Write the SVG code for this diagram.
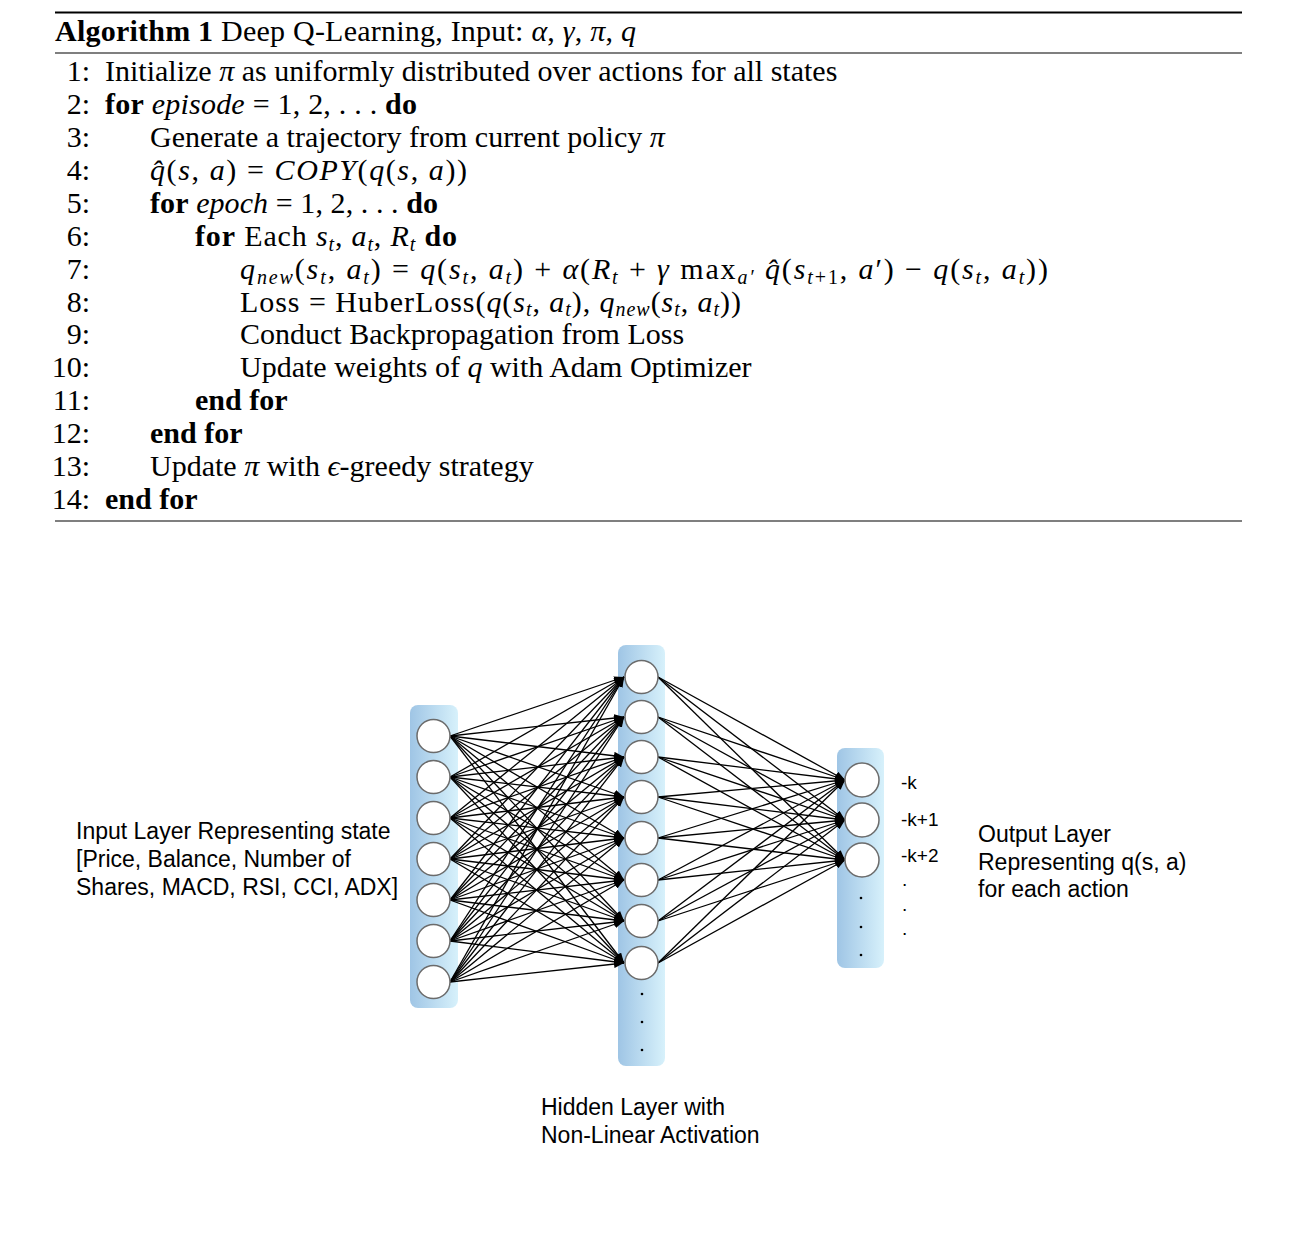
<svg xmlns="http://www.w3.org/2000/svg" width="1299" height="1257" viewBox="0 0 1299 1257">
<style>
.t{font-family:"Liberation Serif","Times New Roman",serif;font-size:30px;fill:#000}
.b{font-weight:bold}
.i{font-style:italic}
.s{font-size:20px;font-style:italic}
.sr{font-size:20px}
.n{text-anchor:end}
.lab{font-family:"Liberation Sans",Arial,sans-serif;font-size:23px;fill:#000}
.kl{font-family:"Liberation Sans",Arial,sans-serif;font-size:19px;fill:#000}
.rule{stroke:#000}
.lay{fill:url(#lg)}
.nd{fill:#fff;stroke:#6b6b6b;stroke-width:1.5}
.c line{stroke:#000;stroke-width:1.3;marker-end:url(#ah)}
.dot{fill:#000}
</style>
<defs>
<linearGradient id="lg" x1="0" y1="0" x2="1" y2="0">
<stop offset="0" stop-color="#9fc5e5"/>
<stop offset="1" stop-color="#d7f1fb"/>
</linearGradient>
<marker id="ah" markerUnits="userSpaceOnUse" markerWidth="10" markerHeight="8" refX="10" refY="4" orient="auto">
<path d="M0,0 L10,4 L0,8 z" fill="#000"/>
</marker>
</defs>
<rect width="1299" height="1257" fill="#fff"/>

<g id="algorithm">
<line class="rule" x1="55" y1="12.5" x2="1242" y2="12.5" stroke-width="2"/>
<line class="rule" x1="55" y1="53" x2="1242" y2="53" stroke-width="1.2"/>
<line class="rule" x1="55" y1="521" x2="1242" y2="521" stroke-width="1.2"/>
<text class="t" x="55" y="41" textLength="581" lengthAdjust="spacing"><tspan class="b">Algorithm 1</tspan> Deep Q-Learning, Input: <tspan class="i">α</tspan>, <tspan class="i">γ</tspan>, <tspan class="i">π</tspan>, <tspan class="i">q</tspan></text>

<text class="t n" x="90" y="81">1:</text>
<text class="t n" x="90" y="114">2:</text>
<text class="t n" x="90" y="147">3:</text>
<text class="t n" x="90" y="180">4:</text>
<text class="t n" x="90" y="213">5:</text>
<text class="t n" x="90" y="246">6:</text>
<text class="t n" x="90" y="279">7:</text>
<text class="t n" x="90" y="312">8:</text>
<text class="t n" x="90" y="344">9:</text>
<text class="t n" x="90" y="377">10:</text>
<text class="t n" x="90" y="410">11:</text>
<text class="t n" x="90" y="443">12:</text>
<text class="t n" x="90" y="476">13:</text>
<text class="t n" x="90" y="509">14:</text>

<text class="t" x="105" y="81">Initialize <tspan class="i">π</tspan> as uniformly distributed over actions for all states</text>
<text class="t" x="105" y="114" textLength="312" lengthAdjust="spacing"><tspan class="b">for</tspan> <tspan class="i">episode</tspan> = 1, 2, . . . <tspan class="b">do</tspan></text>
<text class="t" x="150" y="147">Generate a trajectory from current policy <tspan class="i">π</tspan></text>
<text class="t" x="150" y="180" textLength="317" lengthAdjust="spacing"><tspan class="i">q̂</tspan>(<tspan class="i">s</tspan>, <tspan class="i">a</tspan>) = <tspan class="i">COPY</tspan>(<tspan class="i">q</tspan>(<tspan class="i">s</tspan>, <tspan class="i">a</tspan>))</text>
<text class="t" x="150" y="213" textLength="288" lengthAdjust="spacing"><tspan class="b">for</tspan> <tspan class="i">epoch</tspan> = 1, 2, . . . <tspan class="b">do</tspan></text>
<text class="t" x="195" y="246" textLength="262" lengthAdjust="spacing"><tspan class="b">for</tspan> Each <tspan class="i">s</tspan><tspan class="s" dy="5">t</tspan><tspan dy="-5">, </tspan><tspan class="i">a</tspan><tspan class="s" dy="5">t</tspan><tspan dy="-5">, </tspan><tspan class="i">R</tspan><tspan class="s" dy="5">t</tspan><tspan dy="-5" class="b"> do</tspan></text>
<text class="t" x="240" y="279" textLength="808" lengthAdjust="spacing"><tspan class="i">q</tspan><tspan class="s" dy="5">new</tspan><tspan dy="-5">(</tspan><tspan class="i">s</tspan><tspan class="s" dy="5">t</tspan><tspan dy="-5">, </tspan><tspan class="i">a</tspan><tspan class="s" dy="5">t</tspan><tspan dy="-5">) = </tspan><tspan class="i">q</tspan>(<tspan class="i">s</tspan><tspan class="s" dy="5">t</tspan><tspan dy="-5">, </tspan><tspan class="i">a</tspan><tspan class="s" dy="5">t</tspan><tspan dy="-5">) + </tspan><tspan class="i">α</tspan>(<tspan class="i">R</tspan><tspan class="s" dy="5">t</tspan><tspan dy="-5"> + </tspan><tspan class="i">γ</tspan> max<tspan class="s" dy="5">a′</tspan><tspan dy="-5"> </tspan><tspan class="i">q̂</tspan>(<tspan class="i">s</tspan><tspan class="s" dy="5">t</tspan><tspan class="sr">+1</tspan><tspan dy="-5">, </tspan><tspan class="i">a</tspan>′) − <tspan class="i">q</tspan>(<tspan class="i">s</tspan><tspan class="s" dy="5">t</tspan><tspan dy="-5">, </tspan><tspan class="i">a</tspan><tspan class="s" dy="5">t</tspan><tspan dy="-5">))</tspan></text>
<text class="t" x="240" y="312" textLength="501" lengthAdjust="spacing">Loss = HuberLoss(<tspan class="i">q</tspan>(<tspan class="i">s</tspan><tspan class="s" dy="4">t</tspan><tspan dy="-4">, </tspan><tspan class="i">a</tspan><tspan class="s" dy="4">t</tspan><tspan dy="-4">), </tspan><tspan class="i">q</tspan><tspan class="s" dy="4">new</tspan><tspan dy="-4">(</tspan><tspan class="i">s</tspan><tspan class="s" dy="4">t</tspan><tspan dy="-4">, </tspan><tspan class="i">a</tspan><tspan class="s" dy="4">t</tspan><tspan dy="-4">))</tspan></text>
<text class="t" x="240" y="344">Conduct Backpropagation from Loss</text>
<text class="t" x="240" y="377">Update weights of <tspan class="i">q</tspan> with Adam Optimizer</text>
<text class="t b" x="195" y="410">end for</text>
<text class="t b" x="150" y="443">end for</text>
<text class="t" x="150" y="476">Update <tspan class="i">π</tspan> with <tspan class="i">ϵ</tspan>-greedy strategy</text>
<text class="t b" x="105" y="509">end for</text>
</g>

<g id="layer-input">
<rect class="lay" x="410" y="705" width="48" height="303" rx="8"/>
</g>
<g id="layer-hidden">
<rect class="lay" x="618" y="645" width="47" height="421" rx="8"/>
</g>
<g id="layer-output">
<rect class="lay" x="837" y="748" width="47" height="220" rx="8"/>
</g>

<g id="connectors" class="c">
<line x1="450" y1="736" x2="624" y2="677"/><line x1="450" y1="736" x2="624" y2="717"/><line x1="450" y1="736" x2="624" y2="757"/><line x1="450" y1="736" x2="624" y2="797"/><line x1="450" y1="736" x2="624" y2="838"/><line x1="450" y1="736" x2="624" y2="880"/><line x1="450" y1="736" x2="624" y2="921"/><line x1="450" y1="736" x2="624" y2="963"/>
<line x1="450" y1="777" x2="624" y2="677"/><line x1="450" y1="777" x2="624" y2="717"/><line x1="450" y1="777" x2="624" y2="757"/><line x1="450" y1="777" x2="624" y2="797"/><line x1="450" y1="777" x2="624" y2="838"/><line x1="450" y1="777" x2="624" y2="880"/><line x1="450" y1="777" x2="624" y2="921"/><line x1="450" y1="777" x2="624" y2="963"/>
<line x1="450" y1="818" x2="624" y2="677"/><line x1="450" y1="818" x2="624" y2="717"/><line x1="450" y1="818" x2="624" y2="757"/><line x1="450" y1="818" x2="624" y2="797"/><line x1="450" y1="818" x2="624" y2="838"/><line x1="450" y1="818" x2="624" y2="880"/><line x1="450" y1="818" x2="624" y2="921"/><line x1="450" y1="818" x2="624" y2="963"/>
<line x1="450" y1="859" x2="624" y2="677"/><line x1="450" y1="859" x2="624" y2="717"/><line x1="450" y1="859" x2="624" y2="757"/><line x1="450" y1="859" x2="624" y2="797"/><line x1="450" y1="859" x2="624" y2="838"/><line x1="450" y1="859" x2="624" y2="880"/><line x1="450" y1="859" x2="624" y2="921"/><line x1="450" y1="859" x2="624" y2="963"/>
<line x1="450" y1="900" x2="624" y2="677"/><line x1="450" y1="900" x2="624" y2="717"/><line x1="450" y1="900" x2="624" y2="757"/><line x1="450" y1="900" x2="624" y2="797"/><line x1="450" y1="900" x2="624" y2="838"/><line x1="450" y1="900" x2="624" y2="880"/><line x1="450" y1="900" x2="624" y2="921"/><line x1="450" y1="900" x2="624" y2="963"/>
<line x1="450" y1="941" x2="624" y2="677"/><line x1="450" y1="941" x2="624" y2="717"/><line x1="450" y1="941" x2="624" y2="757"/><line x1="450" y1="941" x2="624" y2="797"/><line x1="450" y1="941" x2="624" y2="838"/><line x1="450" y1="941" x2="624" y2="880"/><line x1="450" y1="941" x2="624" y2="921"/><line x1="450" y1="941" x2="624" y2="963"/>
<line x1="450" y1="982" x2="624" y2="677"/><line x1="450" y1="982" x2="624" y2="717"/><line x1="450" y1="982" x2="624" y2="757"/><line x1="450" y1="982" x2="624" y2="797"/><line x1="450" y1="982" x2="624" y2="838"/><line x1="450" y1="982" x2="624" y2="880"/><line x1="450" y1="982" x2="624" y2="921"/><line x1="450" y1="982" x2="624" y2="963"/>
<line x1="658" y1="677" x2="845" y2="780"/><line x1="658" y1="677" x2="845" y2="820"/><line x1="658" y1="677" x2="845" y2="860"/>
<line x1="658" y1="717" x2="845" y2="780"/><line x1="658" y1="717" x2="845" y2="820"/><line x1="658" y1="717" x2="845" y2="860"/>
<line x1="658" y1="757" x2="845" y2="780"/><line x1="658" y1="757" x2="845" y2="820"/><line x1="658" y1="757" x2="845" y2="860"/>
<line x1="658" y1="797" x2="845" y2="780"/><line x1="658" y1="797" x2="845" y2="820"/><line x1="658" y1="797" x2="845" y2="860"/>
<line x1="658" y1="838" x2="845" y2="780"/><line x1="658" y1="838" x2="845" y2="820"/><line x1="658" y1="838" x2="845" y2="860"/>
<line x1="658" y1="880" x2="845" y2="780"/><line x1="658" y1="880" x2="845" y2="820"/><line x1="658" y1="880" x2="845" y2="860"/>
<line x1="658" y1="921" x2="845" y2="780"/><line x1="658" y1="921" x2="845" y2="820"/><line x1="658" y1="921" x2="845" y2="860"/>
<line x1="658" y1="963" x2="845" y2="780"/><line x1="658" y1="963" x2="845" y2="820"/><line x1="658" y1="963" x2="845" y2="860"/>
</g>

<g id="in1"><circle class="nd" cx="433.5" cy="736" r="16.5"/></g>
<g id="in2"><circle class="nd" cx="433.5" cy="777" r="16.5"/></g>
<g id="in3"><circle class="nd" cx="433.5" cy="818" r="16.5"/></g>
<g id="in4"><circle class="nd" cx="433.5" cy="859" r="16.5"/></g>
<g id="in5"><circle class="nd" cx="433.5" cy="900" r="16.5"/></g>
<g id="in6"><circle class="nd" cx="433.5" cy="941" r="16.5"/></g>
<g id="in7"><circle class="nd" cx="433.5" cy="982" r="16.5"/></g>

<g id="h1"><circle class="nd" cx="641.5" cy="677" r="16.5"/></g>
<g id="h2"><circle class="nd" cx="641.5" cy="717" r="16.5"/></g>
<g id="h3"><circle class="nd" cx="641.5" cy="757" r="16.5"/></g>
<g id="h4"><circle class="nd" cx="641.5" cy="797" r="16.5"/></g>
<g id="h5"><circle class="nd" cx="641.5" cy="838" r="16.5"/></g>
<g id="h6"><circle class="nd" cx="641.5" cy="880" r="16.5"/></g>
<g id="h7"><circle class="nd" cx="641.5" cy="921" r="16.5"/></g>
<g id="h8"><circle class="nd" cx="641.5" cy="963" r="16.5"/></g>
<g id="h-more">
<circle class="dot" cx="642" cy="994" r="1.3"/><circle class="dot" cx="642" cy="1022" r="1.3"/><circle class="dot" cx="642" cy="1050" r="1.3"/>
</g>

<g id="o1"><circle class="nd" cx="862" cy="780" r="17"/></g>
<g id="o2"><circle class="nd" cx="862" cy="820" r="17"/></g>
<g id="o3"><circle class="nd" cx="862" cy="860" r="17"/></g>
<g id="o-more">
<circle class="dot" cx="861" cy="898" r="1.3"/><circle class="dot" cx="861" cy="927" r="1.3"/><circle class="dot" cx="861" cy="955" r="1.3"/>
</g>

<g id="labels">
<text class="kl" x="901" y="789">-k</text>
<text class="kl" x="901" y="826">-k+1</text>
<text class="kl" x="901" y="862">-k+2</text>
<text class="kl" x="902" y="886">.</text>
<text class="kl" x="902" y="911">.</text>
<text class="kl" x="902" y="935">.</text>
<text class="lab" x="76" y="839">Input Layer Representing state</text>
<text class="lab" x="76" y="867">[Price, Balance, Number of</text>
<text class="lab" x="76" y="895">Shares, MACD, RSI, CCI, ADX]</text>
<text class="lab" x="978" y="842">Output Layer</text>
<text class="lab" x="978" y="870">Representing q(s, a)</text>
<text class="lab" x="978" y="897">for each action</text>
<text class="lab" x="541" y="1115">Hidden Layer with</text>
<text class="lab" x="541" y="1143">Non-Linear Activation</text>
</g>
</svg>
